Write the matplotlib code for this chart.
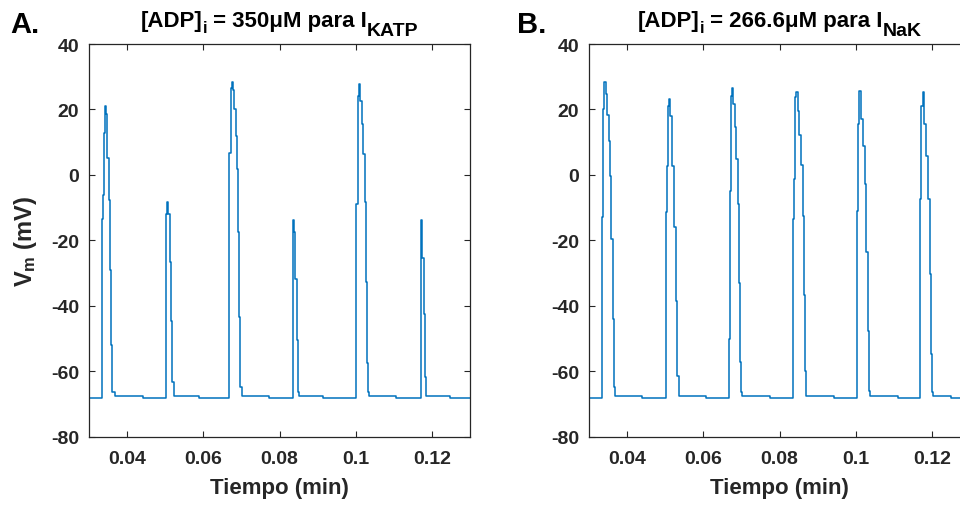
# -*- coding: utf-8 -*-
"""Potencial de membrana Vm vs tiempo, dos condiciones de [ADP]i (paneles A y B)."""
import matplotlib
matplotlib.use('Agg')
import matplotlib.pyplot as plt

# ── datos ──
BASE_REST = -68.2   # reposo antes de cada espiga
T_START, T_END = 0.03, 0.13

# Panel A: [ADP]i = 350 µM para I_KATP
A_SPIKE_T = [
    [0.03344, 0.0337, 0.03388, 0.03414, 0.03457, 0.03483, 0.0352, 0.03546, 0.0358, 0.03606, 0.03675],
    [0.05023, 0.05041, 0.05084, 0.05119, 0.05154, 0.05189, 0.05222],
    [0.06665, 0.06683, 0.06717, 0.06744, 0.06778, 0.06804, 0.06849, 0.06883, 0.06909, 0.06935, 0.06972, 0.07006],
    [0.08344, 0.0837, 0.08414, 0.08449, 0.08484, 0.08511],
    [0.10014, 0.10049, 0.10075, 0.10119, 0.10154, 0.10189, 0.10232, 0.10267, 0.10294, 0.10311, 0.10337],
    [0.11701, 0.11736, 0.1178, 0.11815, 0.1185],
]
A_SPIKE_V = [
    [-13.4, -6.3, 12.8, 20.9, 18.6, 5.2, -7.8, -29.2, -52.1, -66.3, -67.6],
    [-12.0, -8.3, -12.0, -26.7, -44.6, -63.4, -67.6],
    [-51.7, 6.7, 26.5, 28.5, 26.0, 20.1, 12.0, 1.8, -17.6, -43.6, -65.0, -67.6],
    [-13.7, -17.6, -31.8, -50.5, -66.5, -67.6],
    [-8.9, 24.0, 27.8, 22.7, 15.5, 6.4, -8.4, -32.7, -57.5, -66.5, -67.6],
    [-13.7, -25.5, -42.5, -61.8, -67.6],
]
A_STEP_T = [0.04409, 0.05878, 0.07732, 0.0913, 0.11064, 0.12462]

# Panel B: [ADP]i = 266.6 µM para I_NaK
B_SPIKE_T = [
    [0.03352, 0.03378, 0.03404, 0.03439, 0.03475, 0.03517, 0.03554, 0.03588, 0.03622, 0.03648, 0.03693],
    [0.05031, 0.05057, 0.05083, 0.0511, 0.05136, 0.0518, 0.05232, 0.05275, 0.0531, 0.05354],
    [0.06675, 0.06693, 0.06736, 0.06762, 0.06788, 0.06832, 0.06867, 0.06902, 0.06937, 0.06972, 0.06998, 0.07024],
    [0.08362, 0.0838, 0.08414, 0.0844, 0.08475, 0.08519, 0.08572, 0.08606, 0.08633, 0.08659, 0.08694],
    [0.10025, 0.1006, 0.10095, 0.10138, 0.10191, 0.10235, 0.10278, 0.10313, 0.10339, 0.10374],
    [0.11685, 0.1172, 0.11755, 0.1179, 0.11842, 0.11886, 0.11938, 0.11982, 0.11999, 0.12034],
]
B_SPIKE_V = [
    [-13.0, 20.1, 28.5, 24.7, 18.3, 10.4, -0.3, -19.6, -44.1, -64.9, -67.6],
    [-11.5, 2.6, 21.1, 23.2, 18.1, 2.8, -16.0, -38.5, -61.4, -67.6],
    [-50.2, -4.8, 24.2, 26.5, 21.7, 14.5, 4.8, -8.9, -33.1, -57.3, -66.5, -67.6],
    [-13.5, -1.3, 23.7, 25.2, 19.6, 12.2, 3.0, -12.5, -36.7, -59.9, -67.6],
    [-11.0, 15.5, 25.7, 17.1, 8.9, -2.8, -23.7, -47.6, -66.0, -67.6],
    [-7.4, 21.1, 25.4, 15.5, 5.8, -7.4, -30.3, -54.8, -66.5, -67.6],
]
B_STEP_T = [0.04393, 0.06072, 0.07759, 0.09437, 0.111, 0.12498]

XTICKS = [0.04, 0.06, 0.08, 0.1, 0.12]
XTICKLABELS = ['0.04', '0.06', '0.08', '0.1', '0.12']
YTICKS = [-80, -60, -40, -20, 0, 20, 40]

# títulos por trozos: (texto, tamaño, desplazamiento hacia abajo en px)
TITLE_A = [('[ADP]', 16, 0), ('i', 12, 6), (' = 350μM para I', 16, 0), ('KATP', 14, 9)]
TITLE_B = [('[ADP]', 16, 0), ('i', 12, 6), (' = 266.6μM para I', 16, 0), ('NaK', 14, 9)]


def trace(spk_t, spk_v, step_t):
    """une espigas + reposo en una sola traza (steps-post)"""
    t, v = [T_START], [BASE_REST]
    for st, sv, s in zip(spk_t, spk_v, step_t):
        t += st; v += sv
        t.append(s); v.append(BASE_REST)
    t.append(T_END); v.append(BASE_REST)
    return t, v


plt.rcParams['font.family'] = ['Liberation Sans', 'DejaVu Sans']
plt.rcParams['font.weight'] = 'bold'
plt.rcParams['axes.unicode_minus'] = False
plt.rcParams['mathtext.fontset'] = 'custom'
plt.rcParams['mathtext.rm'] = 'Liberation Sans:bold'
plt.rcParams['mathtext.it'] = 'Liberation Sans:bold'
plt.rcParams['mathtext.bf'] = 'Liberation Sans:bold'

LINE = '#0072BD'
AX_COL = '#262626'

fig = plt.figure(figsize=(9.6, 5.06), dpi=100)
W, H = 960, 506
bot, hgt = (H - 437.5) / H, 392.5 / H
axA = fig.add_axes([89 / W, bot, 381 / W, hgt])
axB = fig.add_axes([589 / W, bot, 381 / W, hgt])
renderer = fig.canvas.get_renderer()


def rich_title(pieces, cx, base_y):
    """coloca trozos de texto (con subíndices) centrados en cx (px), línea base base_y (px desde arriba)"""
    items, x = [], 0.0
    for s, size, dy in pieces:
        t = fig.text(0, 0, s, fontsize=size, fontweight='bold', color='black', va='baseline')
        w = t.get_window_extent(renderer).width
        items.append((t, x, dy)); x += w
    x0 = cx - x / 2
    for t, off, dy in items:
        t.set_position(((x0 + off) / W, (H - base_y - dy) / H))


panels = [(axA, A_SPIKE_T, A_SPIKE_V, A_STEP_T, TITLE_A, (89 + 470) / 2),
          (axB, B_SPIKE_T, B_SPIKE_V, B_STEP_T, TITLE_B, (589 + 970) / 2)]
for ax, st, sv, stp, ttl, cx in panels:
    t, v = trace(st, sv, stp)
    ax.plot(t, v, drawstyle='steps-post', color=LINE, lw=1.1)
    ax.set_xlim(T_START, T_END); ax.set_ylim(-80, 40)
    ax.set_xticks(XTICKS); ax.set_xticklabels(XTICKLABELS)
    ax.set_yticks(YTICKS)
    ax.tick_params(direction='in', top=True, right=True, length=4, width=0.8,
                   colors=AX_COL, labelsize=14, labelcolor=AX_COL)
    ax.tick_params(axis='x', pad=10)
    ax.tick_params(axis='y', pad=7)
    for s in ax.spines.values():
        s.set_color(AX_COL); s.set_linewidth(0.9)
    ax.set_xlabel('Tiempo (min)', fontsize=16, color=AX_COL, fontweight='bold', labelpad=7)
    rich_title(ttl, cx, 27)

axA.set_ylabel(r'V$_\mathrm{m}$ (mV)', fontsize=17, color=AX_COL, fontweight='bold', labelpad=9)

fig.text(10 / W, 1 - 33 / H, 'A.', fontsize=21, fontweight='bold', color='black')
fig.text(517 / W, 1 - 33 / H, 'B.', fontsize=21, fontweight='bold', color='black')

fig.savefig('out.png', dpi=100)
